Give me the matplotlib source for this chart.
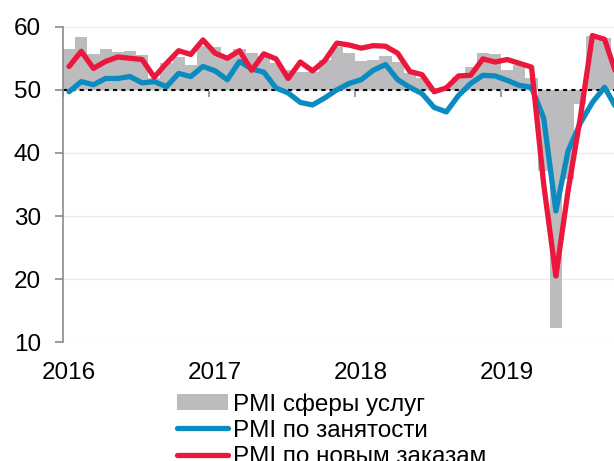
import matplotlib
matplotlib.use('Agg')
import matplotlib.pyplot as plt

plt.rcParams['font.family'] = ['Liberation Sans', 'DejaVu Sans']

# Помісячні значення (індекс 0 = перший місяць на графіку)
services = [56.5, 58.4, 55.6, 56.5, 56.0, 56.2, 55.5, 51.8, 54.2, 55.2,
            53.9, 57.0, 56.8, 55.3, 56.4, 55.8, 55.3, 54.3, 53.2, 52.9,
            52.9, 54.7, 56.8, 55.8, 54.5, 54.8, 55.3, 54.4, 52.6, 51.8,
            50.3, 50.5, 52.0, 53.6, 55.8, 55.6, 53.2, 54.0, 51.8, 37.1,
            12.2, 35.9, 47.8, 58.5, 58.2, 53.7]
employment = [49.7, 51.3, 50.8, 51.8, 51.8, 52.1, 51.1, 51.3, 50.5, 52.6,
              52.1, 53.7, 53.0, 51.6, 54.5, 53.3, 52.8, 50.3, 49.5, 48.0,
              47.6, 48.7, 50.0, 51.0, 51.6, 53.1, 54.0, 51.6, 50.4, 49.4,
              47.2, 46.5, 49.1, 51.0, 52.3, 52.2, 51.5, 50.7, 50.4, 45.5,
              30.8, 40.3, 44.7, 48.0, 50.4, 47.0]
new_orders = [53.7, 56.1, 53.4, 54.5, 55.2, 55.0, 54.8, 52.0, 54.2, 56.2,
              55.6, 57.9, 55.8, 55.0, 56.2, 53.1, 55.7, 54.9, 51.8, 54.4,
              53.0, 54.6, 57.4, 57.1, 56.6, 57.0, 56.9, 55.8, 52.9, 52.4,
              49.7, 50.3, 52.2, 52.3, 54.9, 54.4, 54.8, 54.2, 53.6, 35.0,
              20.5, 34.0, 45.5, 58.6, 58.0, 52.3]
year_labels = ['2016', '2017', '2018', '2019']
year_pos = [0, 12, 24, 36]

months = list(range(len(services)))
base = 50

grey = '#bcbcbe'
blue = '#0b8bc0'
red = '#ec173d'
axis_grey = '#8a8a8a'
fs = 17.5

fig = plt.figure(figsize=(6.14, 4.61), dpi=100)
# вісь навмисно виходить за правий край (обрізаний графік)
ax = fig.add_axes([63 / 614, 0.2575, len(months) * 12.17 / 614, 0.6846])

bars = ax.bar(months, [v - base for v in services], bottom=base, width=1.0,
              color=grey, zorder=1)
ax.axhline(base, color='black', lw=1.5, ls=(0, (2, 2)), zorder=2)
l_emp, = ax.plot(months, employment, color=blue, lw=3.8, zorder=3,
                 solid_joinstyle='round', solid_capstyle='round')
l_ord, = ax.plot(months, new_orders, color=red, lw=3.8, zorder=4,
                 solid_joinstyle='round', solid_capstyle='round')

ax.set_xlim(-0.5, len(months) - 0.5)
ax.set_ylim(10, 60)
ax.set_yticks(range(10, 61, 10))
ax.yaxis.grid(True, color='#ebebeb', lw=1.0, zorder=0)
ax.set_axisbelow(True)

for side in ['top', 'right']:
    ax.spines[side].set_visible(False)
ax.spines['left'].set_color(axis_grey)
ax.spines['left'].set_linewidth(1.2)
ax.spines['bottom'].set_position(('data', base))
ax.spines['bottom'].set_visible(False)

ax.tick_params(axis='y', direction='out', length=6, width=1.2,
               color=axis_grey, pad=10, labelsize=fs)
ax.set_xticks([p - 0.5 for p in year_pos])
ax.tick_params(axis='x', direction='out', length=5, width=1.2,
               color=axis_grey, labelbottom=False)

sec = ax.secondary_xaxis(0)
sec.set_xticks(year_pos, year_labels)
sec.tick_params(length=0, pad=14, labelsize=fs)
sec.spines['bottom'].set_visible(False)

fig.legend([bars, l_emp, l_ord],
           ['PMI сферы услуг', 'PMI по занятости', 'PMI по новым заказам'],
           loc='upper left', bbox_to_anchor=(177 / 614, 1 - 393 / 461),
           frameon=False, fontsize=fs, handlelength=2.1,
           handletextpad=0.2, labelspacing=0.17, borderpad=0,
           borderaxespad=0, handleheight=0.6)

fig.savefig('out.png', dpi=100)
